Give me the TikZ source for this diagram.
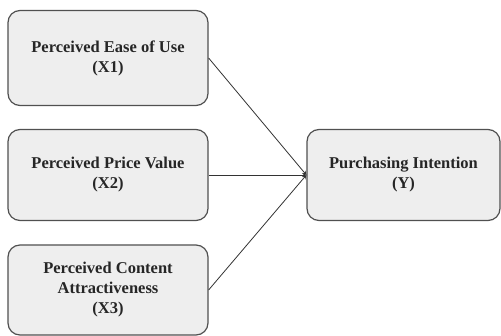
\documentclass[tikz,border=0pt]{standalone}
\usepackage{fontspec}
\setmainfont{Liberation Serif}
\usetikzlibrary{arrows}
\definecolor{boxfill}{HTML}{EEEEEE}
\definecolor{boxline}{HTML}{505050}

\begin{document}
\begin{tikzpicture}[x=1pt,y=-1pt]
\tikzstyle{every node}+=[inner sep=0pt]
\tikzstyle{varbox}=[draw=boxline,fill=boxfill,line width=1.2pt,rounded corners=12pt,
  align=center,font=\fontsize{16.5}{20}\selectfont\bfseries,text=black!85]
\tikzstyle{link}=[draw=black!80,line width=0.8pt,-stealth]
\useasboundingbox (0,0) rectangle (501,336);
\node [varbox,minimum width=200pt,minimum height=95pt] (x1) at (108,58) {Perceived Ease of Use\\(X1)};
\node [varbox,minimum width=200pt,minimum height=91pt] (x2) at (108,175) {Perceived Price Value\\(X2)};
\node [varbox,minimum width=200pt,minimum height=90pt] (x3) at (108,290) {Perceived Content\\Attractiveness\\(X3)};
\node [varbox,minimum width=193pt,minimum height=91pt] (y) at (403.5,175) {Purchasing Intention\\(Y)};
\draw [link] (x1.east) -- (y.west);
\draw [link] (x2.east) -- (y.west);
\draw [link] (x3.east) -- (y.west);
\end{tikzpicture}
\end{document}
